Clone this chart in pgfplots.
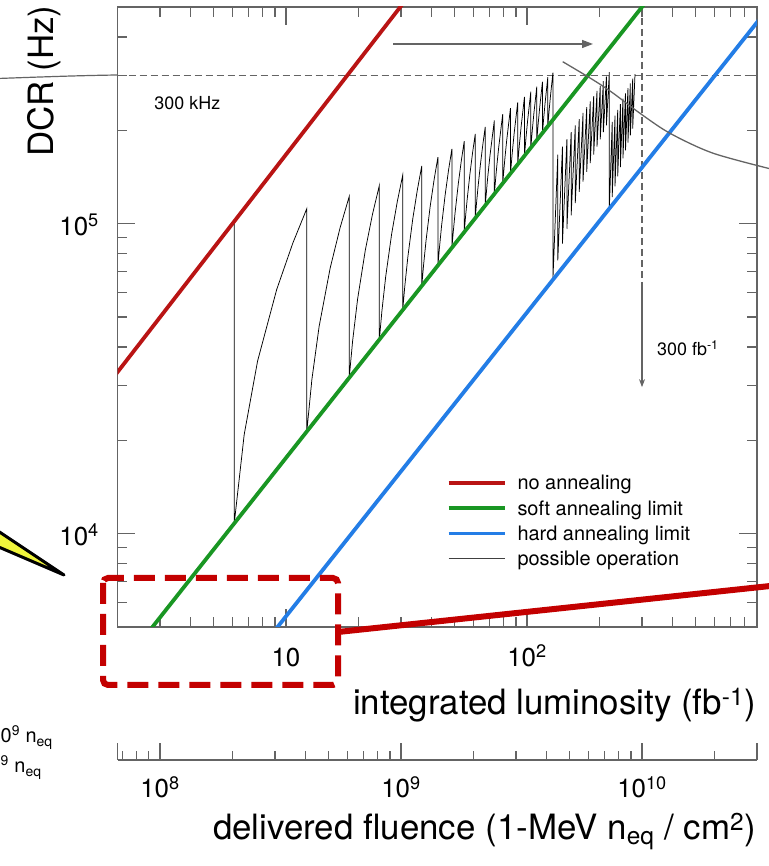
\documentclass[border=0pt]{standalone}
\usepackage{pgfplots}
\pgfplotsset{compat=1.18}
\usepackage{fontspec}
\setmainfont{TeX Gyre Heros}
\usetikzlibrary{arrows.meta}
\definecolor{cred}{RGB}{185,20,20}
\definecolor{cgreen}{RGB}{25,150,35}
\definecolor{cblue}{RGB}{35,125,230}
\definecolor{cgrey}{RGB}{100,100,100}
\definecolor{dashred}{RGB}{195,0,0}
\definecolor{cyellow}{RGB}{240,245,60}
\begin{document}
\begin{tikzpicture}
\path[use as bounding box] (0,0) rectangle (769bp,866bp);
\clip (0,0) rectangle (769bp,866bp);
\begin{axis}[
  at={(117.5bp,239bp)}, anchor=south west,
  scale only axis, width=639.5bp, height=620bp,
  xmode=log, ymode=log,
  xmin=2, xmax=900, ymin=5000, ymax=500000,
  axis line style={cgrey, line width=1.2bp},
  tick style={cgrey, line width=1.1bp},
  major tick length=18bp, minor tick length=10bp,
  xtick={10,100}, xticklabels={10,10\textsuperscript{2}},
  ytick={10000,100000}, yticklabels={10\textsuperscript{4},10\textsuperscript{5}},
  minor xtick={3,4,5,6,7,8,9,20,30,40,50,60,70,80,90,200,300,400,500,600,700,800},
  minor ytick={6000,7000,8000,9000,20000,30000,40000,50000,60000,70000,80000,90000,200000,300000,400000},
  ticklabel style={font=\fontsize{26}{30}\selectfont, inner sep=0pt},
  xticklabel style={anchor=base, yshift=-40bp},
  yticklabel style={anchor=base east, xshift=-18.5bp, yshift=-11.5bp},
  legend style={at={(0.5148,0.2452)}, anchor=north west, draw=none, fill=none,
    inner sep=0pt, outer sep=0pt, font=\fontsize{20}{24}\selectfont,
    row sep=5.3bp, column sep=11bp,
    nodes={inner sep=0pt, text height=15bp, text depth=5bp}},
  legend cell align=left,
  legend image code/.code={\draw[#1] (0bp,2bp) -- (56bp,2bp);},
]
\addplot[cgrey, line width=1.1bp, dash pattern=on 7bp off 4bp, forget plot] coordinates {(2,300000) (900,300000)};
\addplot[cgrey, line width=1.1bp, dash pattern=on 7bp off 4bp, forget plot] coordinates {(300,500000) (300,64000)};
\addplot[cgrey, line width=1.1bp, -{Stealth[length=8bp,width=6bp]}, forget plot] coordinates {(300,64000) (300,29700)};
\addplot[black, line width=0.75bp, forget plot] coordinates {
(6.1,101700)
(6.1,10791) (6.71,20891) (7.625,36041) (9.15,61291) (10.675,86541) (12.2,111791)
(12.2,21355) (12.81,31455) (13.725,46605) (15.25,71855) (16.775,97105) (18.3,122355)
(18.3,31836) (18.91,41936) (19.825,57086) (21.35,82336) (22.875,107586) (24.4,132836)
(24.4,42263) (25.01,52363) (25.925,67513) (27.45,92763) (28.975,118013) (30.5,143263)
(30.5,52650) (31.11,62750) (32.025,77900) (33.55,103150) (35.075,128400) (36.6,153650)
(36.6,63005) (37.21,73105) (38.125,88255) (39.65,113505) (41.175,138755) (42.7,164005)
(42.7,73334) (43.31,83434) (44.225,98584) (45.75,123834) (47.275,149084) (48.8,174334)
(48.8,83640) (49.41,93740) (50.325,108890) (51.85,134140) (53.375,159390) (54.9,184640)
(54.9,93928) (55.51,104028) (56.425,119178) (57.95,144428) (59.475,169678) (61.0,194928)
(61.0,104195) (61.61,114295) (62.525,129445) (64.05,154695) (65.575,179945) (67.1,205195)
(67.1,114449) (68.625,139699) (70.15,164949) (73.2,215449)
(73.2,124690) (74.725,149940) (76.25,175190) (79.3,225690)
(79.3,134916) (80.825,160166) (82.35,185416) (85.4,235916)
(85.4,145130) (86.925,170380) (88.45,195630) (91.5,246130)
(91.5,155334) (93.025,180584) (94.55,205834) (97.6,256334)
(97.6,165527) (99.125,190777) (100.65,216027) (103.7,266527)
(103.7,175712) (105.225,200962) (106.75,226212) (109.8,276712)
(109.8,185886) (111.325,211136) (112.85,236386) (115.9,286886)
(115.9,196052) (117.425,221302) (118.95,246552) (122.0,297052)
(122.0,206209) (123.525,231459) (125.05,256709) (128.1,307209)
(128.1,66000) (134.2,167000) (134.2,76100) (140.3,177100) (140.3,86200) (146.4,187200)
(146.4,96300) (152.5,197300) (152.5,106400) (158.6,207400) (158.6,116500) (164.7,217500)
(164.7,126600) (170.8,227600) (170.8,136700) (176.9,237700) (176.9,146800) (183.0,247800)
(183.0,156900) (189.1,257900) (189.1,167000) (195.2,268000) (195.2,177100) (201.3,278100)
(201.3,187200) (207.4,288200) (207.4,197300) (213.5,298300) (213.5,207400) (219.6,308400)
(219.6,111800) (225.7,212800) (225.7,121900) (231.8,222900) (231.8,132000) (237.9,233000)
(237.9,142100) (244.0,243100) (244.0,152200) (250.1,253200) (250.1,162300) (256.2,263300)
(256.2,172400) (262.3,273400) (262.3,182500) (268.4,283500) (268.4,192600) (274.5,293600)
(274.5,202700) (280.6,303700)
};
\addplot[cred, line width=3.8bp] coordinates {(1.8,29860) (40,672000)};
\addlegendentry{no annealing}
\addplot[cgreen, line width=3.8bp] coordinates {(2.5,4483) (400,664000)};
\addlegendentry{soft annealing limit}
\addplot[cblue, line width=3.8bp] coordinates {(8,4348) (1000,494500)};
\addlegendentry{hard annealing limit}
\addlegendimage{black!75, line width=1bp}
\addlegendentry{possible operation}
\end{axis}

\begin{axis}[
  at={(117.5bp,106bp)}, anchor=south west,
  scale only axis, width=639.5bp, height=10bp,
  xmode=log, xmin=6.6667e7, xmax=3e10, ymin=0, ymax=1,
  hide y axis, axis x line*=bottom, xtick align=inside,
  axis line style={cgrey, line width=1.2bp},
  tick style={cgrey, line width=1.1bp},
  major tick length=17bp, minor tick length=9bp,
  xtick={1e8,1e9,1e10}, xticklabels={10\textsuperscript{8},10\textsuperscript{9},10\textsuperscript{10}},
  minor xtick={7e7,8e7,9e7,2e8,3e8,4e8,5e8,6e8,7e8,8e8,9e8,2e9,3e9,4e9,5e9,6e9,7e9,8e9,9e9,2e10},
  extra x ticks={6.6667e7,3e10}, extra x tick labels={},
  ticklabel style={font=\fontsize{26}{30}\selectfont, inner sep=0pt},
  xticklabel style={anchor=base, yshift=-38bp},
]
\addplot[draw=none] coordinates {(1e9,0.5)};
\end{axis}

\begin{scope}[x=1bp, y=-1bp, shift={(0,866bp)}]
\draw[cgrey, line width=1.2bp] (-2,78.5) .. controls (40,77) and (80,75.5) .. (118,75);
\draw[cgrey, line width=1.3bp, -{Triangle[length=11bp,width=8bp]}] (393,44) -- (593,44);
\draw[cgrey, line width=1.3bp] plot[smooth] coordinates {(562.7,61.7) (593.3,80) (613.3,93.3) (640,113.3) (670,133.3) (713.3,153.3) (775,170)};
\filldraw[fill=cyellow, draw=black, line width=3bp, line join=round] (-20,519) -- (64,575) -- (-20,539) -- cycle;
\draw[dashred, line width=6bp, dash pattern=on 21bp off 10bp, rounded corners=5bp] (103,578) rectangle (338,685);
\draw[dashred, line width=6bp] (338,632) -- (775,585.5);
\node[anchor=base west, font=\fontsize{20}{24}\selectfont, inner sep=0pt] at (0.5,743) {0\textsuperscript{9} n\textsubscript{eq}};
\node[anchor=base west, font=\fontsize{20}{24}\selectfont, inner sep=0pt] at (0.5,773) {\textsuperscript{9} n\textsubscript{eq}};
\node[anchor=base east, font=\fontsize{35}{40}\selectfont, inner sep=0pt] at (756,715) {integrated luminosity (fb\textsuperscript{-1})};
\node[anchor=base east, font=\fontsize{35}{40}\selectfont, inner sep=0pt] at (756,840) {delivered fluence (1-MeV n\textsubscript{eq} / cm\textsuperscript{2})};
\node[anchor=base west, rotate=90, font=\fontsize{35}{40}\selectfont, inner sep=0pt] at (53,157) {DCR (Hz)};
\node[anchor=base west, font=\fontsize{18}{22}\selectfont, inner sep=0pt] at (154.3,109.3) {300 kHz};
\node[anchor=base west, font=\fontsize{18}{22}\selectfont, inner sep=0pt] at (657,356) {300 fb\textsuperscript{-1}};
\end{scope}
\end{tikzpicture}
\end{document}
